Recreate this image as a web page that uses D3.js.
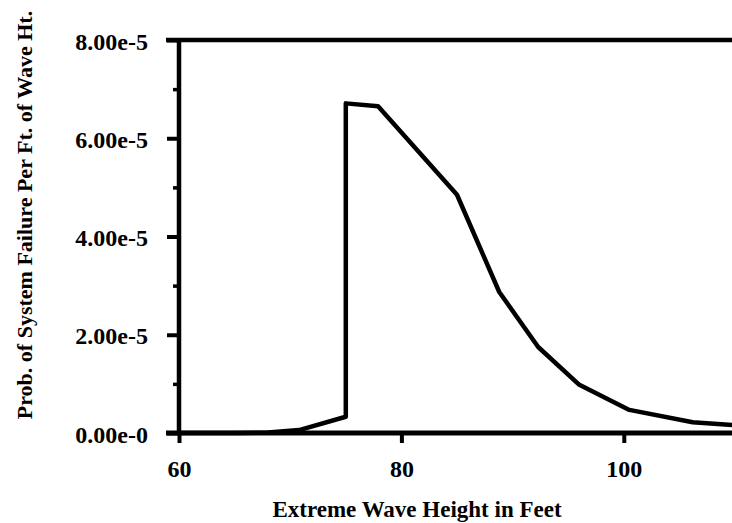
<!DOCTYPE html>
<html>
<head>
<meta charset="utf-8">
<script src="https://cdn.jsdelivr.net/npm/d3@7"></script>
<style>
  html, body { margin: 0; padding: 0; background: #fff; }
  svg { display: block; }
  text { font-family: "Liberation Serif", "Times New Roman", serif; font-weight: bold; fill: #000; }
</style>
</head>
<body>
<svg id="chart" width="732" height="523"></svg>
<script>
// Wave height (ft) and probability of system failure per ft of wave height
const waveHeight = [60, 65, 68, 70.8, 75, 75, 77.9, 85, 88.8, 92.3, 96, 100.5, 106.2, 110];
const failureProb = [0, 0, 0.01e-5, 0.06e-5, 0.33e-5, 6.71e-5, 6.65e-5, 4.85e-5, 2.87e-5, 1.75e-5, 0.98e-5, 0.47e-5, 0.22e-5, 0.16e-5];

const xTicks = [60, 80, 100];
const yTicks = [0, 2e-5, 4e-5, 6e-5, 8e-5];
const yMinorTicks = [1e-5, 3e-5, 5e-5, 7e-5];
const yTickLabels = ["0.00e-0", "2.00e-5", "4.00e-5", "6.00e-5", "8.00e-5"];

const svg = d3.select("#chart");

const x = d3.scaleLinear().domain([60, 110]).range([179, 735]);
const y = d3.scaleLinear().domain([0, 8e-5]).range([433, 40]);

const axisStroke = 4.5;

// y axis: major ticks with labels
const yAxis = svg.append("g")
  .attr("transform", `translate(${x(60)},0)`)
  .call(d3.axisLeft(y)
    .tickValues(yTicks)
    .tickSize(12)
    .tickPadding(19)
    .tickFormat((d, i) => yTickLabels[i]));
yAxis.select(".domain").attr("stroke-width", axisStroke).attr("d", `M0,${y(8e-5) - 2}V${y(0)}`);
yAxis.selectAll(".tick line").attr("stroke-width", 4);
yAxis.selectAll(".tick text").style("font-size", "24px").attr("dy", "0.38em");

// y axis: minor ticks
const yMinor = svg.append("g")
  .attr("transform", `translate(${x(60)},0)`)
  .call(d3.axisLeft(y).tickValues(yMinorTicks).tickSize(6).tickFormat(""));
yMinor.select(".domain").remove();
yMinor.selectAll(".tick line").attr("stroke-width", 3.5);

// x axis along the zero line
const xAxis = svg.append("g")
  .attr("transform", `translate(0,${y(0)})`)
  .call(d3.axisBottom(x).tickValues(xTicks).tickSize(10).tickPadding(17));
xAxis.select(".domain").attr("stroke-width", axisStroke + 0.5).attr("d", `M${x(60) - 13},0H${x(110)}`);
xAxis.selectAll(".tick line").attr("stroke-width", 4);
xAxis.selectAll(".tick text").style("font-size", "24px");

// top frame line at the axis maximum
svg.append("line")
  .attr("x1", x(60) - 13).attr("x2", x(110))
  .attr("y1", y(8e-5)).attr("y2", y(8e-5))
  .attr("stroke", "#000").attr("stroke-width", axisStroke);

// failure probability curve
const line = d3.line().x((d, i) => x(waveHeight[i])).y(d => y(d));
svg.append("path")
  .datum(failureProb)
  .attr("d", line)
  .attr("fill", "none")
  .attr("stroke", "#000")
  .attr("stroke-width", 4.5)
  .attr("stroke-linejoin", "round");

// axis titles
svg.append("text")
  .attr("x", 417)
  .attr("y", 517)
  .attr("text-anchor", "middle")
  .style("font-size", "23px")
  .text("Extreme Wave Height in Feet");

svg.append("text")
  .attr("transform", `translate(32,215) rotate(-90)`)
  .attr("text-anchor", "middle")
  .style("font-size", "22px")
  .text("Prob. of System Failure Per Ft. of Wave Ht.");
</script>
</body>
</html>
